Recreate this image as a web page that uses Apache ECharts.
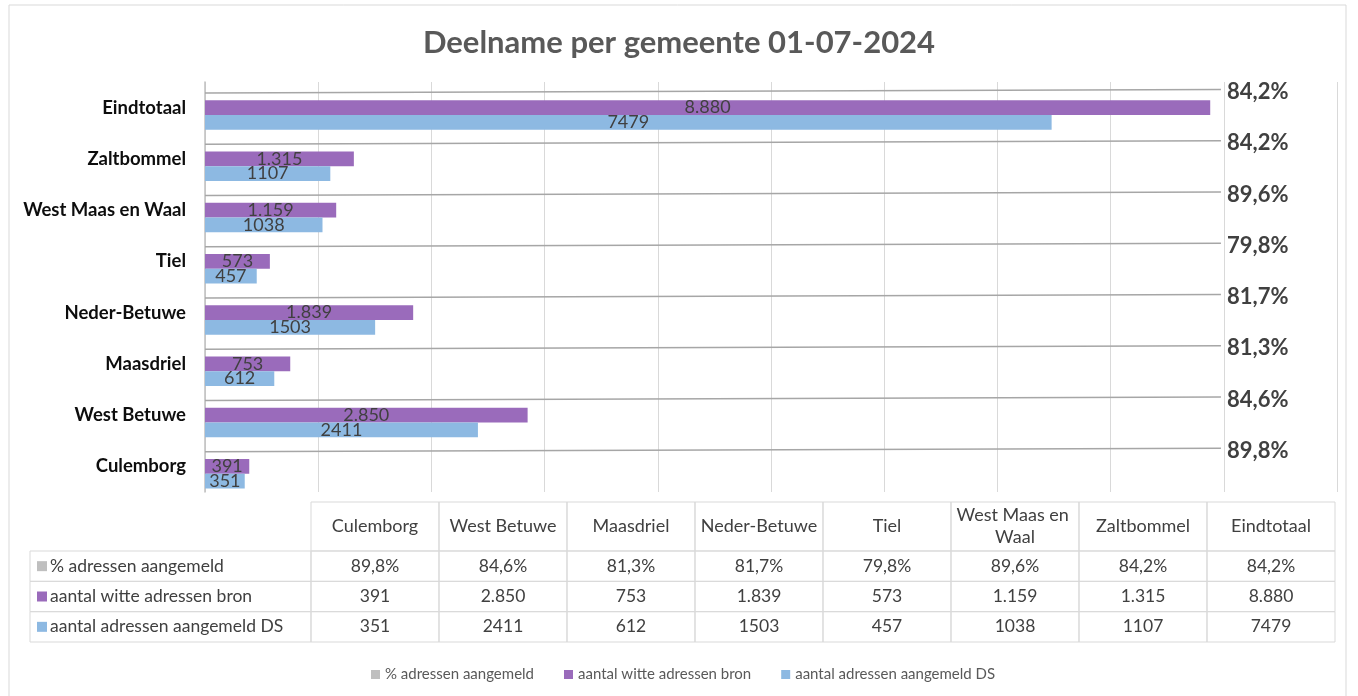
<!DOCTYPE html>
<html><head><meta charset="utf-8">
<script src="https://cdn.jsdelivr.net/npm/echarts@6/dist/echarts.min.js"></script>
<style>html,body{margin:0;padding:0;background:#fff}#c{width:1358px;height:696px}</style>
</head><body><div id="c"></div>
<script>
// ---- data ----
const categories = ['Culemborg','West Betuwe','Maasdriel','Neder-Betuwe','Tiel','West Maas en Waal','Zaltbommel','Eindtotaal'];
const pctAangemeld = [89.8, 84.6, 81.3, 81.7, 79.8, 89.6, 84.2, 84.2];
const witteBron = [391, 2850, 753, 1839, 573, 1159, 1315, 8880];
const aangemeldDS = [351, 2411, 612, 1503, 457, 1038, 1107, 7479];
const seriesNames = ['% adressen aangemeld', 'aantal witte adressen bron', 'aantal adressen aangemeld DS'];
const titleText = 'Deelname per gemeente 01-07-2024';
const xMin = 0, xMax = 10000, xInterval = 1000;

// ---- styles / layout ----
const COLORS = ['#bfbfbf', '#9a6bbb', '#8db9e2'];
const FONT = 'Lato, "Open Sans", sans-serif';
const TXT = '#404040';
const BORDER = '#d9d9d9';
const CAT_GAP = 0.14;
const LINE_END = 8975;   // axis value where % lines end
const LINE_RISE = 3.5;   // px
const TABLE_LEFT = 30;
const HEADER_H = 49;

const fmtThousands = v => String(v).replace(/\B(?=(\d{3})+(?!\d))/g, '.');
const fmtPct = v => v.toFixed(1).replace('.', ',') + '%';

const tableRows = [
  pctAangemeld.map(fmtPct),
  witteBron.map(fmtThousands),
  aangemeldDS.map(String)
];
const tableData = [];
for (let r = 0; r < tableRows.length; r++)
  for (let c = 0; c < categories.length; c++) tableData.push([c, r]);

const chart = echarts.init(document.getElementById('c'), null, {renderer: 'canvas'});

const option = {
  animation: false,
  backgroundColor: '#fff',
  textStyle: {fontFamily: FONT},
  title: {
    text: titleText, left: 'center', top: 22,
    textStyle: {fontSize: 31, fontWeight: 'bold', color: '#595959', fontFamily: FONT}
  },
  graphic: [{
    type: 'rect', shape: {x: 9, y: 5, width: 1337, height: 720},
    style: {fill: 'none', stroke: BORDER, lineWidth: 1}, silent: true, z: -1
  }],
  legend: {
    left: 366, bottom: 9, itemWidth: 9, itemHeight: 9, itemGap: 30, icon: 'rect',
    textStyle: {fontSize: 15, color: '#595959', fontFamily: FONT},
    data: seriesNames.map((n, i) => ({name: n, itemStyle: {color: COLORS[i], opacity: 1}}))
  },
  grid: [
    {left: 205, right: 21, top: 82, bottom: 204},
    {left: 311, right: 23, top: 551, bottom: 54}
  ],
  xAxis: [
    {type: 'value', gridIndex: 0, min: xMin, max: xMax, interval: xInterval,
     axisLabel: {show: false}, axisLine: {show: false}, axisTick: {show: false},
     splitLine: {show: true, lineStyle: {color: BORDER, width: 1}}},
    {type: 'category', gridIndex: 1, data: categories, show: false}
  ],
  yAxis: [
    {type: 'category', gridIndex: 0, data: categories,
     axisLine: {show: true, lineStyle: {color: '#bfbfbf', width: 1.5}},
     axisTick: {show: false},
     axisLabel: {margin: 19, fontSize: 18.5, fontWeight: 'bold', color: '#0d0d0d', fontFamily: FONT}},
    {type: 'category', gridIndex: 1, data: seriesNames, inverse: true, show: false}
  ],
  series: [
    {
      name: seriesNames[0], type: 'bar', xAxisIndex: 0, yAxisIndex: 0,
      data: pctAangemeld.map(v => v / 100),
      itemStyle: {color: COLORS[0], opacity: 0},
      barGap: '0%', barCategoryGap: (CAT_GAP * 100) + '%'
    },
    {
      name: seriesNames[1], type: 'bar', xAxisIndex: 0, yAxisIndex: 0,
      data: witteBron, itemStyle: {color: COLORS[1]},
      barGap: '0%', barCategoryGap: (CAT_GAP * 100) + '%',
      label: {show: true, position: 'inside', color: TXT, fontSize: 18, fontFamily: FONT,
              formatter: p => fmtThousands(p.value)}
    },
    {
      name: seriesNames[2], type: 'bar', xAxisIndex: 0, yAxisIndex: 0,
      data: aangemeldDS, itemStyle: {color: COLORS[2]},
      barGap: '0%', barCategoryGap: (CAT_GAP * 100) + '%',
      label: {show: true, position: 'inside', color: TXT, fontSize: 18, fontFamily: FONT,
              formatter: p => String(p.value)}
    },
    {
      name: 'pctLines', type: 'custom', xAxisIndex: 0, yAxisIndex: 0,
      data: pctAangemeld.map((v, i) => [i, v]),
      encode: {y: 0},
      clip: false, z: 5,
      renderItem: (params, api) => {
        const cat = api.value(0), pct = api.value(1);
        const band = api.size([0, 1])[1];
        const slot = band * (1 - CAT_GAP) / 3;
        const c0 = api.coord([0, cat]);
        const y0 = c0[1] - slot;
        const xEnd = api.coord([LINE_END, cat])[0];
        const y1 = y0 - LINE_RISE;
        return {type: 'group', children: [
          {type: 'line', shape: {x1: c0[0], y1: y0, x2: xEnd, y2: y1},
           style: {stroke: '#a6a6a6', lineWidth: 1.5}},
          {type: 'text', x: xEnd + 6, y: y1 + 2.5,
           style: {text: fmtPct(pct), fill: TXT, font: 'bold 22px ' + FONT,
                   verticalAlign: 'middle', align: 'left'}}
        ]};
      }
    },
    {
      name: 'table', type: 'custom', xAxisIndex: 1, yAxisIndex: 1,
      data: tableData, clip: false,
      renderItem: (params, api) => {
        const col = api.value(0), row = api.value(1);
        const sz = api.size([1, 1]);
        const c = api.coord([col, row]);
        const w = sz[0], h = sz[1];
        const x = c[0] - w / 2, y = c[1] - h / 2;
        const cellStyle = {fill: 'none', stroke: BORDER, lineWidth: 1};
        const ch = [
          {type: 'rect', shape: {x, y, width: w, height: h}, style: cellStyle},
          {type: 'text', x: c[0], y: c[1],
           style: {text: tableRows[row][col], fill: TXT, font: '17.5px ' + FONT,
                   align: 'center', verticalAlign: 'middle'}}
        ];
        if (row === 0) {
          ch.push({type: 'rect', shape: {x, y: y - HEADER_H, width: w, height: HEADER_H}, style: cellStyle});
          ch.push({type: 'text', x: c[0], y: y - HEADER_H / 2,
            style: {text: categories[col], fill: TXT, font: '18px ' + FONT,
                    align: 'center', verticalAlign: 'middle', width: w - 8,
                    overflow: 'break', lineHeight: 22}});
        }
        if (col === 0) {
          ch.push({type: 'rect', shape: {x: TABLE_LEFT, y, width: x - TABLE_LEFT, height: h}, style: cellStyle});
          ch.push({type: 'rect', shape: {x: TABLE_LEFT + 7, y: c[1] - 5, width: 10, height: 10},
                   style: {fill: COLORS[row]}});
          ch.push({type: 'text', x: TABLE_LEFT + 20, y: c[1],
            style: {text: seriesNames[row], fill: TXT, font: '17.5px ' + FONT,
                    align: 'left', verticalAlign: 'middle'}});
        }
        return {type: 'group', children: ch};
      }
    }
  ]
};
chart.setOption(option);
</script>
</body></html>
